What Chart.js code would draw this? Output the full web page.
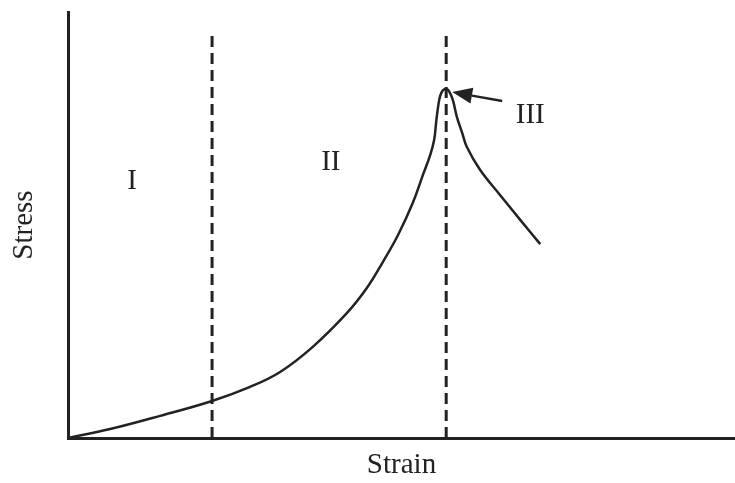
<!DOCTYPE html>
<html>
<head>
<meta charset="utf-8">
<script src="https://cdn.jsdelivr.net/npm/chart.js@4.4.1/dist/chart.umd.min.js"></script>
<style>
  html, body { margin: 0; padding: 0; background: #fff; }
  #wrap { width: 735px; height: 483px; position: relative; }
</style>
</head>
<body>
<div id="wrap"><canvas id="c"></canvas></div>
<script>
// Stress-strain curve (arbitrary units, 0..100).
const strainX = [0, 6.3, 13.8, 21.6, 27.3, 31.8, 36.7, 41.8, 44.8, 47.2, 49.5, 51.7, 53.2, 54.3, 54.9, 55.2, 55.5, 55.8, 56.2, 56.7, 57.1, 57.7, 58.3, 59.1, 59.8, 61.8, 64.8, 67.8, 70.8];
const stressY = [0, 2.1, 5.2, 8.7, 12.0, 15.5, 21.4, 29.3, 35.2, 41.3, 47.7, 55.2, 61.7, 66.4, 70.0, 74.2, 77.9, 80.3, 81.6, 81.9, 81.5, 79.3, 75.4, 71.6, 68.3, 62.9, 57.0, 51.2, 45.5];

// Stage boundaries (dashed verticals) and their top.
const boundaryX = [21.6, 56.7];
const boundaryTop = 95.5;

// Stage labels
const stageNames = ['I', 'II', 'III'];
const stageX = [9.6, 39.4, 69.3];
const stageY = [60.3, 64.8, 75.8];

// Arrow pointing at the peak: tail -> tip
const arrowFrom = [65.1, 79.1];
const arrowTo = [57.6, 81.2];

const INK = '#222';
const SERIF = '"Liberation Serif", "Times New Roman", serif';

const curve = strainX.map((x, i) => ({ x, y: stressY[i] }));

const datasets = [
  {
    label: 'curve', data: curve, parsing: false,
    borderColor: INK, borderWidth: 2.5, pointRadius: 0,
    fill: false, tension: 0.4,
  },
];
for (const bx of boundaryX) {
  datasets.push({
    label: 'boundary', data: [{ x: bx, y: 0 }, { x: bx, y: boundaryTop }], parsing: false,
    borderColor: INK, borderWidth: 3, borderDash: [11, 6], pointRadius: 0, fill: false,
  });
}

const annotations = {
  id: 'annotations',
  afterDatasetsDraw(chart) {
    const ctx = chart.ctx;
    const xs = chart.scales.x, ys = chart.scales.y;
    ctx.save();
    ctx.fillStyle = INK;
    ctx.font = '29px ' + SERIF;
    ctx.textAlign = 'center';
    ctx.textBaseline = 'middle';
    stageNames.forEach((t, i) => {
      ctx.fillText(t, xs.getPixelForValue(stageX[i]), ys.getPixelForValue(stageY[i]));
    });

    // arrow
    const x0 = xs.getPixelForValue(arrowFrom[0]), y0 = ys.getPixelForValue(arrowFrom[1]);
    const x1 = xs.getPixelForValue(arrowTo[0]), y1 = ys.getPixelForValue(arrowTo[1]);
    const ang = Math.atan2(y1 - y0, x1 - x0);
    const headLen = 20, headW = 8;
    const bx = x1 - headLen * Math.cos(ang), by = y1 - headLen * Math.sin(ang);
    ctx.strokeStyle = INK;
    ctx.lineWidth = 2.5;
    ctx.beginPath();
    ctx.moveTo(x0, y0);
    ctx.lineTo(bx, by);
    ctx.stroke();
    ctx.beginPath();
    ctx.moveTo(x1, y1);
    ctx.lineTo(bx + headW * Math.sin(ang), by - headW * Math.cos(ang));
    ctx.lineTo(bx - headW * Math.sin(ang), by + headW * Math.cos(ang));
    ctx.closePath();
    ctx.fill();
    ctx.restore();
  },
};

new Chart(document.getElementById('c'), {
  type: 'line',
  data: { datasets },
  options: {
    responsive: true, maintainAspectRatio: false, animation: false,
    layout: { padding: { top: 12, right: 0, left: 0, bottom: 0 } },
    scales: {
      x: {
        type: 'linear', min: 0, max: 100,
        ticks: { display: false },
        grid: { display: false, drawTicks: false },
        border: { display: true, color: INK, width: 3 },
        title: { display: true, text: 'Strain', color: INK,
                 font: { family: SERIF, size: 29, lineHeight: 1 },
                 padding: { top: 13, bottom: 3 } },
      },
      y: {
        type: 'linear', min: 0, max: 100,
        ticks: { display: false },
        grid: { display: false, drawTicks: false },
        border: { display: true, color: INK, width: 3 },
        title: { display: true, text: 'Stress', color: INK,
                 font: { family: SERIF, size: 29, lineHeight: 1 },
                 padding: { top: 10, bottom: 29 } },
      },
    },
    plugins: { legend: { display: false }, tooltip: { enabled: false } },
  },
  plugins: [annotations],
});
</script>
</body>
</html>
